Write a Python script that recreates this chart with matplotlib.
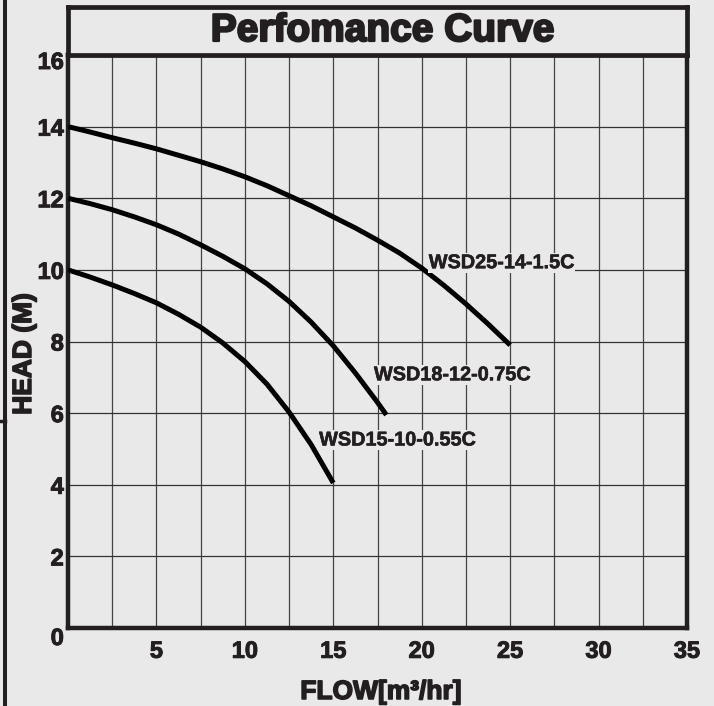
import matplotlib
matplotlib.use('Agg')
import matplotlib.pyplot as plt
import matplotlib.patheffects as pe
from matplotlib.lines import Line2D
from matplotlib.transforms import ScaledTranslation

# pump curves (flow m3/hr, head m)
flow_25 = [0, 1.25, 2.5, 3.75, 5, 6.25, 7.5, 8.75, 10, 11.25, 12.5, 13.75, 15, 16.25, 17.5, 18.75, 20, 21.25, 22.5, 23.75, 25]
head_25 = [14, 13.85, 13.69, 13.54, 13.38, 13.2, 13.02, 12.82, 12.6, 12.35, 12.07, 11.79, 11.48, 11.17, 10.83, 10.47, 10.05, 9.57, 9.05, 8.49, 7.9]

flow_18 = [0, 1.25, 2.5, 3.75, 5, 6.25, 7.5, 8.75, 10, 11.25, 12.5, 13.75, 15, 16.25, 17.5, 18]
head_18 = [12, 11.85, 11.68, 11.48, 11.26, 11.0, 10.7, 10.38, 10.03, 9.61, 9.12, 8.54, 7.88, 7.12, 6.3, 5.95]

flow_15 = [0, 1.25, 2.5, 3.75, 5, 6.25, 7.5, 8.75, 10, 11.25, 12.5, 13.75, 15]
head_15 = [10, 9.8, 9.58, 9.34, 9.08, 8.76, 8.4, 7.96, 7.44, 6.81, 6.03, 5.12, 4.05]

names = ['WSD25-14-1.5C', 'WSD18-12-0.75C', 'WSD15-10-0.55C']
label_pos = [(20.4, 10.2), (17.3, 7.07), (14.2, 5.25)]

x_ticks = [5, 10, 15, 20, 25, 30, 35]
y_ticks = [0, 2, 4, 6, 8, 10, 12, 14, 16]

bg = '#e9e9e9'
ink = '#231f20'
plt.rcParams['font.family'] = ['Liberation Sans', 'DejaVu Sans']

fig = plt.figure(figsize=(7.14, 7.06), dpi=100, facecolor=bg)
ax = fig.add_axes([68/714, 1-628/706, 619/714, 573/706])
ax.set_facecolor(bg)

# grid every 2.5 x 2
for gx in [i*2.5 for i in range(1, 14)]:
    ax.axvline(gx, color='#444444', lw=0.9, zorder=1)
for gy in range(2, 16, 2):
    ax.axhline(gy, color='#333333', lw=0.9, zorder=1)

for fx, hy in [(flow_25, head_25), (flow_18, head_18), (flow_15, head_15)]:
    ax.plot(fx, hy, color='black', lw=3.6, solid_capstyle='butt', solid_joinstyle='round', zorder=3)

for name, (tx, ty) in zip(names, label_pos):
    ax.text(tx, ty, name, fontsize=14.3, fontweight='bold', color=ink,
            ha='left', va='center', zorder=4,
            path_effects=[pe.withStroke(linewidth=0.4, foreground=ink)],
            bbox=dict(facecolor=bg, edgecolor='none', pad=0.5))

ax.set_xlim(0, 35)
ax.set_ylim(0, 16)
ax.set_xticks(x_ticks)
ax.set_yticks(y_ticks)
ax.tick_params(length=0, labelsize=17, colors=ink)
ax.tick_params(axis='x', pad=8.5)
ax.tick_params(axis='y', pad=3)
for lab in ax.get_xticklabels() + ax.get_yticklabels():
    lab.set_fontweight('bold')
    lab.set_path_effects([pe.withStroke(linewidth=0.7, foreground=ink)])
ylabs = ax.get_yticklabels()
ylabs[0].set_transform(ylabs[0].get_transform() + ScaledTranslation(0, -8/100, fig.dpi_scale_trans))
ylabs[-1].set_transform(ylabs[-1].get_transform() + ScaledTranslation(0, -5/100, fig.dpi_scale_trans))
for s in ax.spines.values():
    s.set_linewidth(3.2)
    s.set_color(ink)

# title box
tax = fig.add_axes([68/714, 1-55/706, 619/714, 48/706])
tax.set_facecolor(bg)
tax.set_xticks([]); tax.set_yticks([])
for s in tax.spines.values():
    s.set_linewidth(3.4)
    s.set_color(ink)
tax.text(0.508, 0.5, 'Perfomance Curve', transform=tax.transAxes, ha='center', va='center',
         fontsize=28, fontweight='bold', color=ink,
         path_effects=[pe.withStroke(linewidth=1.6, foreground=ink)])

fig.text(381/714, 1-692/706, 'FLOW[m³/hr]', ha='center', va='center', fontsize=19,
         fontweight='bold', color=ink, path_effects=[pe.withStroke(linewidth=1.1, foreground=ink)])
fig.text(24/714, 1-354/706, 'HEAD (M)', ha='center', va='center', rotation=90, fontsize=19,
         fontweight='bold', color=ink, path_effects=[pe.withStroke(linewidth=1.1, foreground=ink)])

# left page edge
fig.add_artist(Line2D([5/714, 5/714], [0, 1], color=ink, lw=2.9, transform=fig.transFigure))
fig.add_artist(Line2D([0, 5/714], [1-421/706, 1-421/706], color=ink, lw=2.5, transform=fig.transFigure))

fig.savefig('out.png', dpi=100, facecolor=bg)
